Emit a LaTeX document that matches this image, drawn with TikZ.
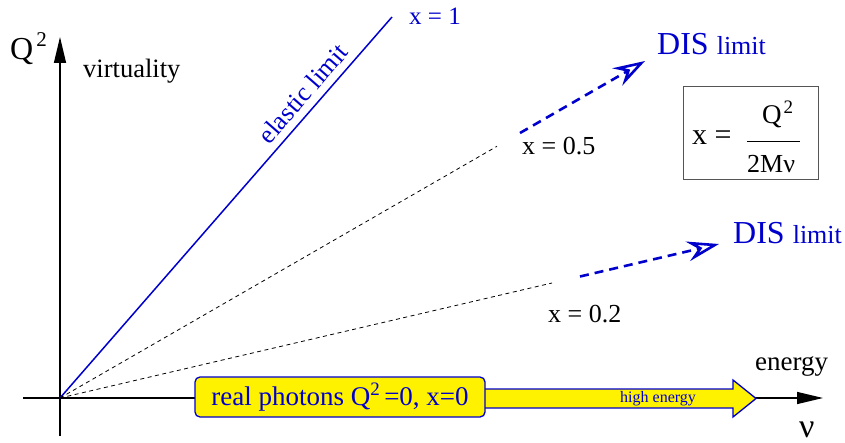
\documentclass[tikz,border=0pt]{standalone}
\usepackage{fontspec}
\setmainfont{Liberation Serif}
\usetikzlibrary{arrows.meta}
\definecolor{dblue}{RGB}{0,0,205}
\definecolor{fboxgray}{RGB}{85,85,85}
\newcommand\fsz[1]{\fontsize{#1}{#1}\selectfont}
\begin{document}
\begin{tikzpicture}[x=1pt,y=-1pt,
  lbl/.style={inner sep=0pt, anchor=base west},
  axisline/.style={line width=1.4pt, black, -{Triangle[length=26pt,width=12pt]}},
  thindash/.style={line width=0.8pt, black, dash pattern=on 4pt off 3.5pt},
  bluedash/.style={line width=2.6pt, dblue, dash pattern=on 9pt off 6pt,
     -{Stealth[open, length=32pt, width=20pt, inset=11pt, line width=2.6pt]}},
  photonbox/.style={draw=dblue, line width=1.3pt, fill=yellow, rounded corners=5pt,
     minimum width=290pt, minimum height=40pt, inner sep=0pt, text=dblue},
  formbox/.style={draw=fboxgray, line width=1pt, minimum width=135pt, minimum height=93pt, inner sep=0pt}]
\useasboundingbox (0,0) rectangle (845,443);

% coordinates
\coordinate (O) at (60,398);
\coordinate (ytop) at (60,37);
\coordinate (ybot) at (60,436);
\coordinate (xleft) at (23,398);
\coordinate (xtip) at (823,398);
\coordinate (E1) at (392,17);
\coordinate (d5end) at (497,146.3);
\coordinate (d5start) at (520,133);
\coordinate (tip5) at (645,61);
\coordinate (d2end) at (552,283);
\coordinate (d2start) at (580,276.5);
\coordinate (tip2) at (719,244);

% axes
\draw[axisline] (ybot) -- (ytop);
\draw[axisline] (xleft) -- (xtip);

% elastic limit
\draw[dblue, line width=1.5pt] (O) -- (E1)
  node[pos=0.77, sloped, above=7pt, inner sep=0pt, font=\fsz{26}] (el) {elastic limit};

% x = 0.5 line
\draw[thindash] (O) -- (d5end);
\draw[bluedash] (d5start) -- (tip5);
% x = 0.2 line
\draw[thindash] (O) -- (d2end);
\draw[bluedash] (d2start) -- (tip2);

% labels
\node[lbl, font=\fsz{32}] (Q2) at (10,60) {Q\hspace{3pt}\raisebox{13pt}{\fsz{21}2}};
\node[lbl, font=\fsz{26.5}] (virt) at (83,78) {virtuality};
\node[lbl, font=\fsz{25}, text=dblue] (x1) at (409,25) {x = 1};
\node[lbl, font=\fsz{26}] (x05) at (522,155) {x = 0.5};
\node[lbl, font=\fsz{26}] (x02) at (548,322) {x = 0.2};
\node[lbl, text=dblue] (dis1) at (657,55) {\fsz{32}DIS \fsz{26}limit};
\node[lbl, text=dblue] (dis2) at (733,244) {\fsz{32}DIS \fsz{26}limit};
\node[lbl, font=\fsz{27}] (energy) at (755,370) {energy};
\node[lbl, font=\fsz{34}] (nu) at (799,437) {ν};

% formula box
\node[formbox] (fbox) at (750.5,133.5) {};
\node[lbl, font=\fsz{30}] (fx) at (692,145) {x =};
\coordinate (barL) at (747,141);
\coordinate (barR) at (800,141);
\draw[line width=0.9pt] (barL) -- (barR);
\node[lbl, font=\fsz{27}] (fnum) at (762,124) {Q\hspace{2pt}\raisebox{10pt}{\fsz{19}2}};
\node[lbl, font=\fsz{26}] (fden) at (747,173) {2Mν};

% yellow arrow
\draw[dblue, line width=1.3pt, fill=yellow, line join=miter]
  (480,389) -- (733,389) -- (733,380) -- (756,398.5) -- (733,417) -- (733,408) -- (480,408) -- cycle;
\node[lbl, font=\fsz{16}, text=dblue] (he) at (620,402) {high energy};

% real photons box
\node[photonbox] (rp) at (340,397) {\fsz{27}real photons Q\raisebox{10pt}{\fsz{19}2}\,=0, x=0};
\end{tikzpicture}
\end{document}
